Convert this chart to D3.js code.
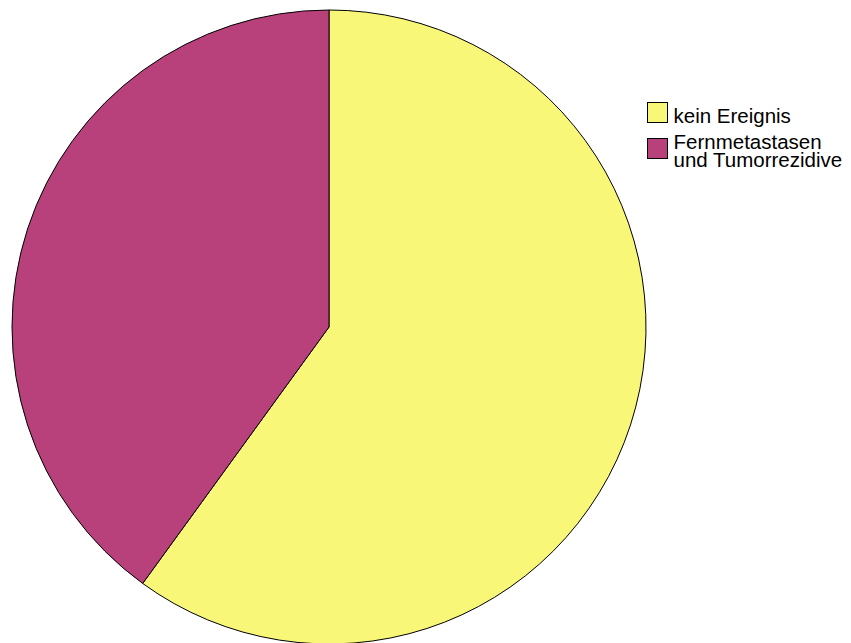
<!DOCTYPE html>
<html>
<head>
<meta charset="utf-8">
<style>
body { margin: 0; background: #fff; }
svg { display: block; }
text { font-family: "Liberation Sans", Arial, sans-serif; font-size: 20.5px; fill: #000; }
</style>
</head>
<body>
<div id="chart"></div>
<script src="https://cdnjs.cloudflare.com/ajax/libs/d3/7.8.5/d3.min.js"></script>
<script>
// data
const categories = ["kein Ereignis", "Fernmetastasen\nund Tumorrezidive"]
const values = [60, 40]
const colors = ["#f9f778", "#b8417c"]

const width = 851, height = 643
const cx = 329, cy = 327, r = 317

const svg = d3.select("#chart").append("svg")
    .attr("width", width)
    .attr("height", height)

const pie = d3.pie().sort(null).value(d => d)
const arc = d3.arc().innerRadius(0).outerRadius(r)

svg.append("g")
    .attr("transform", `translate(${cx},${cy})`)
    .selectAll("path")
    .data(pie(values))
    .join("path")
    .attr("d", arc)
    .attr("fill", (d, i) => colors[i])
    .attr("stroke", "#000")
    .attr("stroke-width", 1)

// legend
const legendY = d3.scalePoint().domain(d3.range(categories.length)).range([102, 138])
const legend = svg.append("g")
const item = legend.selectAll("g")
    .data(categories)
    .join("g")
    .attr("transform", (d, i) => `translate(647.5,${legendY(i) + 0.5})`)

item.append("rect")
    .attr("width", 20)
    .attr("height", 20)
    .attr("fill", (d, i) => colors[i])
    .attr("stroke", "#000")
    .attr("stroke-width", 1)

item.append("text")
    .each(function(d) {
        const lines = d.split("\n")
        const t = d3.select(this)
        lines.forEach((l, j) => {
            t.append("tspan")
                .attr("x", 26)
                .attr("y", lines.length === 1 ? 20 : 10.5 + j * 18)
                .text(l)
        })
    })
</script>
</body>
</html>
